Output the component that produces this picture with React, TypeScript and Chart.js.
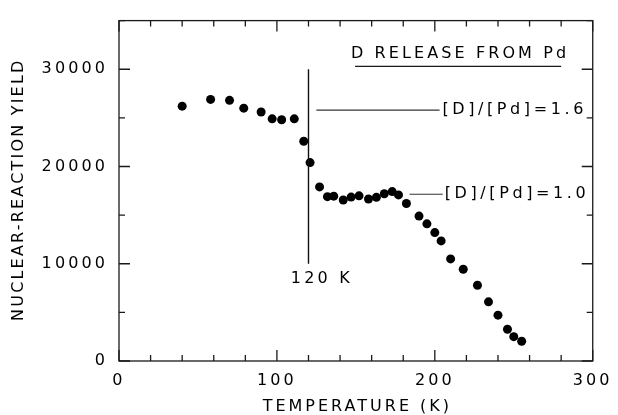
import React, { useEffect, useRef } from "react";
import { Chart, registerables } from "chart.js";

Chart.register(...registerables);

// ---- data ----
const temperatureK = [40, 58, 70, 79, 90, 97, 103, 111, 117, 121, 127, 132, 136, 142, 147, 152, 158, 163, 168, 173, 177, 182, 190, 195, 200, 204, 210, 218, 227, 234, 240, 246, 250, 255];
const reactionYield = [26200, 26900, 26800, 26000, 25600, 24900, 24800, 24900, 22600, 20400, 17900, 16900, 16950, 16550, 16850, 16980, 16660, 16830, 17200, 17420, 17080, 16200, 14900, 14100, 13200, 12350, 10500, 9430, 7790, 6080, 4710, 3270, 2500, 2030];

const xTickValues = [0, 100, 200, 300];
const xTickLabels = ["0", "100", "200", "300"];
const yTickValues = [0, 10000, 20000, 30000];
const yTickLabels = ["0", "10000", "20000", "30000"];

// annotation lines (data coordinates)
const markerLineX = [120, 120];
const markerLineY = [10000, 30000];
const ratio16LineX = [125, 203];
const ratio16LineY = [25800, 25800];
const ratio10LineX = [184, 205];
const ratio10LineY = [17150, 17150];

const annotationTexts = ["[D]/[Pd]=1.6", "[D]/[Pd]=1.0", "120 K"];
const chartTitle = "D RELEASE FROM Pd";
const xTitle = "TEMPERATURE (K)";
const yTitle = "NUCLEAR-REACTION YIELD";

const FONT = "DejaVu Sans";

function spacedText(ctx: CanvasRenderingContext2D, text: string, x: number, y: number, align: CanvasTextAlign, spacing: number) {
  ctx.save();
  (ctx as any).letterSpacing = spacing + "px";
  ctx.textAlign = align;
  ctx.textBaseline = "middle";
  let dx = 0;
  if (align === "center") dx = spacing / 2;
  if (align === "right") dx = spacing;
  ctx.fillText(text, x + dx, y);
  ctx.restore();
}

const framePlugin = {
  id: "framePlugin",
  beforeDraw(chart: any) {
    (chart.ctx as any).letterSpacing = "3.1px";
  },
  afterDraw(chart: any) {
    const ctx: CanvasRenderingContext2D = chart.ctx;
    const xs = chart.scales.x;
    const ys = chart.scales.y;
    const { left, right, top, bottom } = chart.chartArea;
    ctx.save();
    (ctx as any).letterSpacing = "0px";
    ctx.strokeStyle = "#1a1a1a";
    ctx.lineWidth = 1.3;
    ctx.strokeRect(left, top, right - left, bottom - top);
    ctx.beginPath();
    for (let v = 0; v <= 300; v += 20) {
      const px = xs.getPixelForValue(v);
      const len = v % 100 === 0 ? 11 : 6;
      ctx.moveTo(px, bottom);
      ctx.lineTo(px, bottom - len);
      ctx.moveTo(px, top);
      ctx.lineTo(px, top + len);
    }
    for (let v = 0; v <= 35000; v += 5000) {
      const py = ys.getPixelForValue(v);
      const len = v % 10000 === 0 ? 11 : 6;
      ctx.moveTo(left, py);
      ctx.lineTo(left + len, py);
      ctx.moveTo(right, py);
      ctx.lineTo(right - len, py);
    }
    ctx.stroke();

    ctx.fillStyle = "#000";
    ctx.font = `16px "${FONT}"`;
    // title + underline
    const tX = xs.getPixelForValue(215);
    const tY = ys.getPixelForValue(31570);
    spacedText(ctx, chartTitle, tX, tY, "center", 3.1);
    ctx.beginPath();
    ctx.lineWidth = 1.2;
    const uy = ys.getPixelForValue(30300);
    ctx.moveTo(xs.getPixelForValue(149.5), uy);
    ctx.lineTo(xs.getPixelForValue(280), uy);
    ctx.stroke();

    // annotations
    spacedText(ctx, annotationTexts[0], xs.getPixelForValue(204.8), ys.getPixelForValue(25800), "left", 3.6);
    spacedText(ctx, annotationTexts[1], xs.getPixelForValue(206.3), ys.getPixelForValue(17150), "left", 3.6);
    spacedText(ctx, annotationTexts[2], xs.getPixelForValue(108.8), ys.getPixelForValue(8420), "left", 3.2);

    // axis titles
    spacedText(ctx, xTitle, (left + right) / 2, 406.5, "center", 3.0);
    ctx.save();
    ctx.translate(19, (top + bottom) / 2);
    ctx.rotate(-Math.PI / 2);
    spacedText(ctx, yTitle, 0, 0, "center", 2.2);
    ctx.restore();
    ctx.restore();
  },
};

export default function App() {
  const ref = useRef<HTMLCanvasElement>(null);
  useEffect(() => {
    if (!ref.current) return;
    const points = temperatureK.map((t, i) => ({ x: t, y: reactionYield[i] }));
    const toPts = (xa: number[], ya: number[]) => xa.map((x, i) => ({ x, y: ya[i] }));
    const chart = new Chart(ref.current, {
      type: "scatter",
      data: {
        datasets: [
          {
            data: toPts(markerLineX, markerLineY),
            showLine: true,
            borderColor: "#111",
            borderWidth: 1.4,
            pointRadius: 0,
          },
          {
            data: toPts(ratio16LineX, ratio16LineY),
            showLine: true,
            borderColor: "#333",
            borderWidth: 1.1,
            pointRadius: 0,
          },
          {
            data: toPts(ratio10LineX, ratio10LineY),
            showLine: true,
            borderColor: "#333",
            borderWidth: 1.1,
            pointRadius: 0,
          },
          {
            data: points,
            pointRadius: 4.5,
            pointBackgroundColor: "#000",
            pointBorderWidth: 0,
            backgroundColor: "#000",
          },
        ],
      },
      options: {
        responsive: false,
        animation: false,
        devicePixelRatio: 1,
        layout: { padding: { top: 14, right: 21, left: 0, bottom: 0 } },
        plugins: { legend: { display: false }, tooltip: { enabled: false }, title: { display: false } },
        scales: {
          x: {
            type: "linear",
            min: 0,
            max: 300,
            grid: { display: false, drawTicks: false },
            border: { display: false },
            ticks: {
              autoSkip: false,
              padding: 10,
              color: "#000",
              maxRotation: 0,
              font: { family: FONT, size: 16 },
              callback: (v: any) => {
                const i = xTickValues.indexOf(Number(v));
                return i >= 0 ? xTickLabels[i] : "";
              },
            },
            afterBuildTicks: (s: any) => {
              s.ticks = xTickValues.map((value) => ({ value }));
            },
            afterFit: (s: any) => {
              s.height = 54;
            },
          },
          y: {
            type: "linear",
            min: 0,
            max: 35000,
            grid: { display: false, drawTicks: false },
            border: { display: false },
            ticks: {
              autoSkip: false,
              padding: 11,
              color: "#000",
              font: { family: FONT, size: 16 },
              callback: (v: any) => {
                const i = yTickValues.indexOf(Number(v));
                return i >= 0 ? yTickLabels[i] : "";
              },
            },
            afterBuildTicks: (s: any) => {
              s.ticks = yTickValues.map((value) => ({ value }));
            },
            afterFit: (s: any) => {
              s.width = 119;
            },
          },
        },
      },
      plugins: [framePlugin],
    } as any);
    return () => chart.destroy();
  }, []);
  return (
    <div style={{ position: "absolute", left: 0, top: 0, width: 618, height: 415, background: "#fff" }}>
      <canvas ref={ref} width={618} height={415} style={{ display: "block", width: 618, height: 415 }} />
    </div>
  );
}
